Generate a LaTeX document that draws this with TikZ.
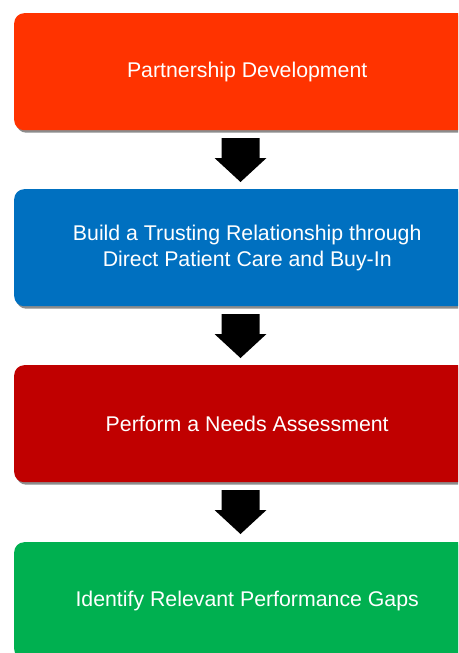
\documentclass[tikz,border=0pt]{standalone}
\usepackage{fontspec}
\setmainfont{Liberation Sans}
\usetikzlibrary{shadows}
\definecolor{stageOrange}{HTML}{FF3300}
\definecolor{stageBlue}{HTML}{0070C0}
\definecolor{stageRed}{HTML}{C00000}
\definecolor{stageGreen}{HTML}{00B050}
\definecolor{shadowGray}{HTML}{8C8C8C}
\begin{document}
\begin{tikzpicture}[x=1pt,y=-1pt,
  stagebox/.style={anchor=north west, rounded corners=10pt,
    minimum width=466pt, minimum height=117pt, inner sep=0pt,
    text=white, align=center,
    font=\fontsize{21.3}{26}\selectfont,
    drop shadow={shadow xshift=2pt, shadow yshift=-2.5pt,
      fill=shadowGray, opacity=1}},
  blockarrow/.pic={
    \fill[black] (-19,0) -- (19,0) -- (19,20) -- (26,20) -- (0,44)
      -- (-26,20) -- (-19,20) -- cycle;}
]
\useasboundingbox (0,0) rectangle (458,653);
\clip (0,0) rectangle (458,653);

% the four stages
\node[stagebox, fill=stageOrange] (partner) at (14,13)
  {Partnership Development};
\node[stagebox, fill=stageBlue] (trust) at (14,189)
  {Build a Trusting Relationship through\\Direct Patient Care and Buy-In};
\node[stagebox, fill=stageRed] (needs) at (14,365)
  {Perform a Needs Assessment};
\node[stagebox, fill=stageGreen] (gaps) at (14,542)
  {Identify Relevant Performance Gaps};

% block arrows between stages
\pic at (240.5,138) {blockarrow};
\pic at (240.5,314) {blockarrow};
\pic at (240.5,490) {blockarrow};
\end{tikzpicture}
\end{document}
